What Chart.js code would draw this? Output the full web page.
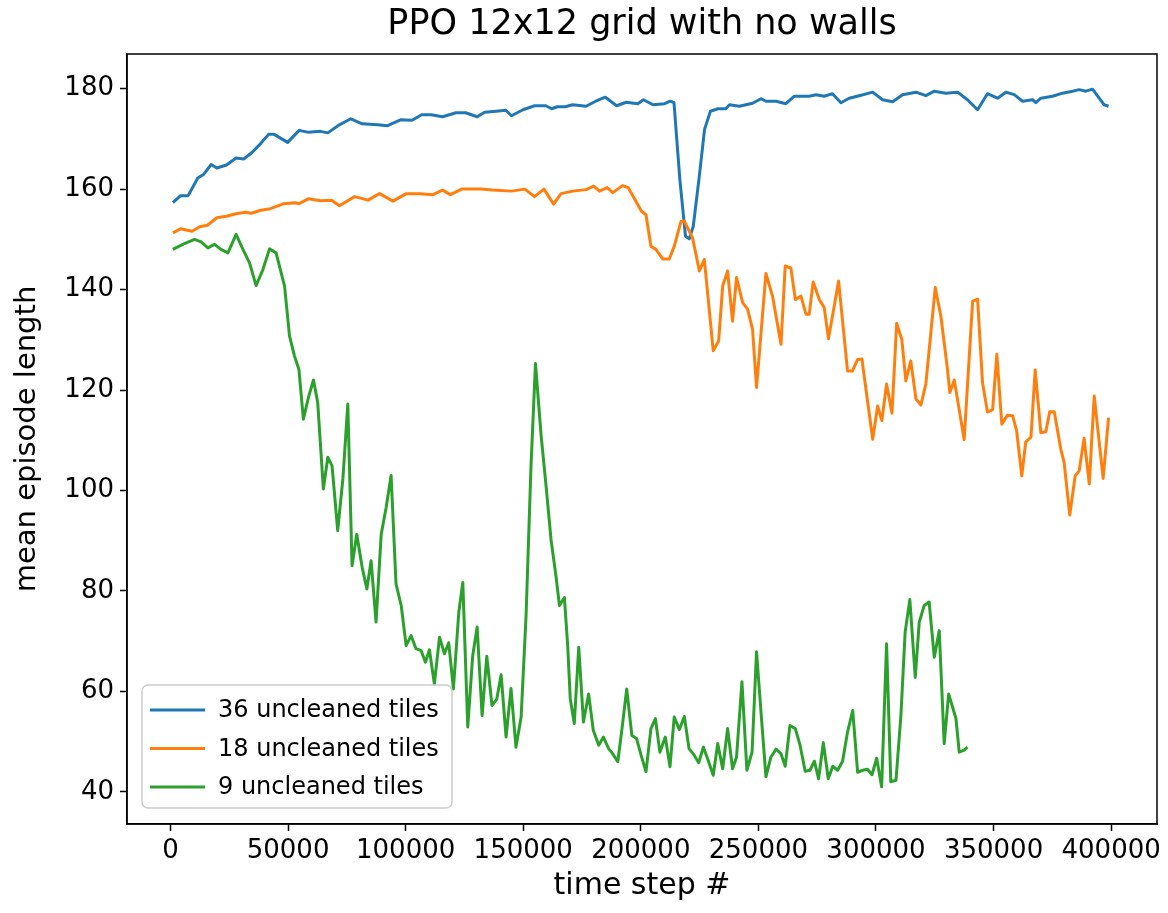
<!DOCTYPE html>
<html>
<head>
<meta charset="utf-8">
<title>PPO 12x12 grid with no walls</title>
<script src="https://cdn.jsdelivr.net/npm/chart.js@4.4.1/dist/chart.umd.min.js"></script>
<style>
  html, body { margin: 0; padding: 0; background: #fff; }
  #wrap { width: 1168px; height: 913px; }
</style>
</head>
<body>
<div id="wrap"><canvas id="chart" width="1168" height="913"></canvas></div>
<script>
// time steps and mean episode length
const steps36 = [1000, 4300, 7500, 11600, 14000, 17300, 19700, 23800, 27900, 31100, 34400, 37600, 41700, 44100, 49800,
  54700, 58800, 63700, 66900, 71800, 76700, 81500, 88100, 92100, 97800, 102700, 106800, 110800, 115700, 121400,
  125500, 130400, 133600, 138500, 142600, 145000, 149900, 154800, 159600, 162100, 164500, 167800, 171000, 176700,
  180800, 184900, 189700, 193800, 198700, 201100, 205200, 210100, 212500, 214100, 216600, 219000, 220600, 222300,
  224700, 227100, 229600, 232800, 236100, 237700, 241900, 247500, 251100, 253200, 257500, 261700, 265300, 271600,
  274500, 278000, 281500, 285100, 288600, 292900, 298600, 302800, 307100, 311300, 317000, 321200, 324800, 329700,
  334700, 338900, 343200, 347400, 351700, 355200, 358800, 362300, 366600, 368000, 370100, 375100, 379300, 383600,
  386400, 389200, 392100, 394900, 397000, 398900];
const len36 = [157.3, 158.7, 158.7, 162.2, 162.9, 164.9, 164.2, 164.8, 166.2, 166.0, 167.2, 168.7, 170.9, 170.9, 169.3,
  171.7, 171.3, 171.5, 171.2, 172.8, 174.0, 173.0, 172.8, 172.6, 173.8, 173.7, 174.8, 174.8, 174.4, 175.2,
  175.2, 174.4, 175.3, 175.5, 175.7, 174.6, 175.8, 176.6, 176.6, 176.0, 176.4, 176.4, 176.8, 176.5,
  177.5, 178.3, 176.6, 177.3, 177.0, 177.8, 176.8, 177.0, 177.5, 177.2, 161.9, 150.6, 150.1, 152.6,
  161.9, 171.9, 175.5, 176.0, 176.0, 176.8, 176.5, 177.1, 178.0, 177.5, 177.5, 177.0, 178.5, 178.5,
  178.8, 178.5, 179.0, 177.2, 178.1, 178.6, 179.3, 177.8, 177.4, 178.8, 179.3, 178.6, 179.5, 179.1,
  179.3, 177.8, 175.8, 179.0, 178.1, 179.3, 178.8, 177.5, 177.8, 177.2, 178.1, 178.5, 179.1, 179.5,
  179.8, 179.5, 179.9, 178.1, 176.8, 176.5];

const steps18 = [1000, 4300, 9200, 12400, 15700, 19700, 23800, 27900, 31900, 34400, 38400, 42500, 48200, 53100, 54700,
  58800, 63700, 68500, 71800, 78300, 84000, 88900, 94600, 100300, 106000, 111600, 115700, 119000, 123800, 132000,
  136900, 145000, 150700, 154800, 158800, 162900, 166100, 171000, 176700, 180000, 182400, 185700, 188100, 192200,
  194600, 197900, 200300, 202200, 204300, 206400, 209300, 212100, 214200, 217100, 218500, 222000, 224900, 227000,
  230800, 233100, 234800, 236900, 239000, 240700, 243300, 245400, 247500, 249200, 253200, 256000, 259600, 261400,
  263800, 265700, 268100, 270200, 271600, 273300, 275900, 278000, 279800, 284100, 287900, 290000, 292200, 294000,
  298600, 300700, 302500, 304500, 306800, 308800, 311000, 312700, 314800, 317000, 319100, 321200, 325200, 327600,
  330400, 331400, 333300, 337500, 341100, 343200, 345300, 347400, 349600, 351400, 353500, 355900, 358100, 359800,
  362000, 363700, 365900, 367700, 370100, 372200, 373900, 375800, 378600, 380000, 382400, 384700, 386400, 388500,
  390700, 392800, 396600, 398900];
const len18 = [151.3, 152.1, 151.6, 152.5, 152.8, 154.3, 154.6, 155.1, 155.4, 155.2, 155.8, 156.1, 157.1, 157.3, 157.1,
  158.1, 157.7, 157.8, 156.7, 158.5, 157.8, 159.1, 157.6, 159.1, 159.1, 158.9, 159.8, 158.9, 160.0, 160.0,
  159.8, 159.6, 160.0, 158.5, 160.0, 157.0, 159.1, 159.6, 159.9, 160.6, 159.6, 160.3, 159.3, 160.7,
  160.3, 157.6, 155.6, 154.9, 148.6, 148.0, 146.1, 146.1, 148.6, 153.6, 153.6, 150.3, 143.7, 146.0,
  127.8, 129.8, 140.7, 143.7, 133.7, 142.4, 137.4, 136.1, 132.1, 120.5, 143.2, 138.7, 129.1, 144.7,
  144.3, 138.0, 138.7, 135.1, 135.1, 141.5, 138.0, 136.4, 130.2, 141.7, 123.8, 123.8, 126.1, 126.2,
  110.2, 116.8, 113.9, 121.2, 115.4, 133.3, 130.0, 121.8, 125.8, 118.2, 117.0, 121.2, 140.4, 134.7,
  124.1, 119.5, 122.0, 110.1, 137.7, 138.1, 121.5, 115.6, 116.1, 127.1, 113.2, 115.0, 114.9, 111.9,
  102.9, 109.7, 110.6, 124.0, 111.5, 111.7, 115.7, 115.7, 108.2, 105.6, 95.1, 102.9, 103.9, 110.4,
  101.3, 118.8, 102.4, 114.5];

const steps9 = [1000, 5200, 10200, 13000, 15900, 18700, 21500, 24400, 27900, 30800, 33600, 36400, 39300, 42100, 44900,
  48500, 50600, 52700, 54600, 56500, 58800, 60800, 62600, 65000, 66900, 68700, 71100, 73300, 75400, 77200,
  79200, 81500, 83500, 85300, 87400, 89600, 91700, 93800, 95900, 98100, 100200, 102300, 104400, 106600, 108400,
  110100, 112200, 114400, 116500, 118300, 120300, 122600, 124300, 126400, 128500, 130400, 132500, 134500, 136700,
  138700, 140600, 142700, 144800, 146900, 149100, 151200, 153300, 155200, 157600, 159700, 161800, 163900, 165400,
  167500, 168900, 170000, 171700, 173600, 175600, 177800, 179800, 182100, 184100, 186300, 188000, 190200, 192000,
  194000, 196200, 198200, 200100, 202200, 204300, 206200, 208100, 210400, 212400, 214200, 216400, 218500, 220500,
  222700, 224600, 226600, 228400, 230800, 232700, 234800, 236900, 239000, 240700, 243000, 245100, 247300, 249200,
  251100, 253200, 255300, 257500, 259600, 261400, 263400, 265700, 267700, 269900, 271900, 273800, 275600, 277600,
  279700, 281600, 283700, 285800, 287900, 290100, 292200, 294300, 296400, 298300, 300300, 302400, 304500, 306300,
  308500, 310600, 312400, 314400, 316700, 318400, 320500, 322600, 324800, 326900, 329000, 330900, 334000, 335400,
  337500, 338900];
const len9 = [148.0, 149.0, 150.0, 149.5, 148.3, 149.0, 148.0, 147.3, 151.0, 148.0, 145.3, 140.8, 144.0, 148.1, 147.3,
  140.7, 130.8, 126.8, 124.1, 114.2, 118.8, 122.0, 117.5, 100.3, 106.6, 104.9, 92.0, 102.3, 117.2, 85.0,
  91.3, 84.7, 80.4, 86.0, 73.8, 91.3, 96.6, 103.0, 81.4, 77.1, 69.1, 71.1, 68.5, 68.1, 65.8,
  68.3, 61.5, 70.8, 67.5, 69.7, 60.5, 75.8, 81.7, 52.9, 67.1, 72.8, 55.2, 67.0, 57.2,
  58.4, 63.3, 50.9, 60.6, 48.9, 54.9, 75.1, 104.9, 125.3, 110.9, 100.9, 90.3, 83.0, 77.1,
  78.7, 69.1, 58.5, 53.6, 68.8, 53.9, 59.5, 52.2, 49.3, 50.9, 48.6, 47.6, 46.0, 52.6,
  60.5, 51.2, 50.6, 47.3, 44.0, 52.6, 54.6, 47.9, 50.9, 45.0, 54.9, 52.4, 55.0, 48.6,
  47.3, 45.8, 48.9, 46.6, 43.3, 49.6, 44.6, 52.6, 44.6, 46.9, 61.9, 44.3, 47.9, 67.9,
  55.9, 43.0, 46.9, 48.5, 47.6, 45.1, 53.2, 52.6, 49.3, 44.1, 44.3, 46.1, 42.6, 49.8,
  42.6, 45.1, 44.3, 46.1, 51.9, 56.2, 43.9, 44.3, 44.5, 43.4, 46.7, 41.0, 69.5, 42.0,
  42.3, 55.2, 71.8, 78.3, 62.8, 73.8, 77.1, 77.8, 66.8, 72.1, 49.6, 59.5, 54.6, 47.9,
  48.3, 48.9];

const seriesLabels = ['36 uncleaned tiles', '18 uncleaned tiles', '9 uncleaned tiles'];
const xTicks = [0, 50000, 100000, 150000, 200000, 250000, 300000, 350000, 400000];
const yTicks = [40, 60, 80, 100, 120, 140, 160, 180];

const colors = ['#1f77b4', '#ff7f0e', '#2ca02c'];
const FONT = "'DejaVu Sans', sans-serif";

function pts(xs, ys) {
  return xs.map((x, i) => ({ x: x, y: ys[i] }));
}

// matplotlib-style box around the plot area
const frame = {
  id: 'frame',
  afterDraw(chart) {
    const { ctx, chartArea: a } = chart;
    ctx.save();
    ctx.strokeStyle = '#000';
    ctx.lineWidth = 1.5;
    ctx.strokeRect(a.left, a.top, a.right - a.left, a.bottom - a.top);
    ctx.restore();
  }
};

// legend box in the lower left corner of the axes
const boxLegend = {
  id: 'boxLegend',
  afterDraw(chart) {
    const { ctx, chartArea: a } = chart;
    const sets = chart.data.datasets;
    const w = 310, h = 123, r = 6;
    const x = a.left + 15, y = a.bottom - 16 - h;
    ctx.save();
    ctx.beginPath();
    ctx.roundRect(x, y, w, h, r);
    ctx.fillStyle = 'rgba(255,255,255,0.8)';
    ctx.fill();
    ctx.strokeStyle = '#cccccc';
    ctx.lineWidth = 1.5;
    ctx.stroke();
    ctx.font = '24px ' + FONT;
    ctx.textBaseline = 'middle';
    sets.forEach((ds, i) => {
      const cy = y + 25 + i * 38.5;
      ctx.beginPath();
      ctx.moveTo(x + 8, cy);
      ctx.lineTo(x + 63, cy);
      ctx.strokeStyle = ds.borderColor;
      ctx.lineWidth = 2.8;
      ctx.stroke();
      ctx.fillStyle = '#000';
      ctx.fillText(ds.label, x + 76, cy + 1);
    });
    ctx.restore();
  }
};

Chart.defaults.color = '#000';
Chart.defaults.font.family = FONT;

new Chart(document.getElementById('chart'), {
  type: 'line',
  data: {
    datasets: [
      { label: seriesLabels[0], data: pts(steps36, len36), borderColor: colors[0], order: 2 },
      { label: seriesLabels[1], data: pts(steps18, len18), borderColor: colors[1], order: 1 },
      { label: seriesLabels[2], data: pts(steps9, len9), borderColor: colors[2], order: 0 }
    ].map(d => Object.assign(d, { borderWidth: 3, pointRadius: 0, tension: 0, fill: false, borderJoinStyle: 'round' }))
  },
  options: {
    responsive: false,
    animation: false,
    devicePixelRatio: 1,
    layout: { padding: { left: 0, right: 11, top: 0, bottom: 0 } },
    plugins: {
      legend: { display: false },
      tooltip: { enabled: false },
      title: {
        display: true,
        fullSize: false,
        text: 'PPO 12x12 grid with no walls',
        color: '#000',
        font: { size: 35, weight: 'normal', family: FONT },
        padding: { top: 4, bottom: 8 }
      }
    },
    scales: {
      x: {
        type: 'linear',
        min: -18500,
        max: 419500,
        afterBuildTicks: s => { s.ticks = xTicks.map(v => ({ value: v })); },
        afterFit: s => { s.height = 89; },
        grid: { drawOnChartArea: false, drawTicks: true, tickLength: 7, tickWidth: 1.5, tickColor: '#000' },
        border: { display: true, color: '#000', width: 1.5 },
        ticks: { font: { size: 26 }, padding: 5, maxRotation: 0, autoSkip: false, callback: v => String(v) },
        title: { display: true, text: 'time step #', font: { size: 30 }, padding: { top: 0, bottom: 9 } }
      },
      y: {
        type: 'linear',
        min: 33.6,
        max: 186.9,
        afterBuildTicks: s => { s.ticks = yTicks.map(v => ({ value: v })); },
        afterFit: s => { s.width = 127; },
        grid: { drawOnChartArea: false, drawTicks: true, tickLength: 7, tickWidth: 1.5, tickColor: '#000' },
        border: { display: true, color: '#000', width: 1.5 },
        ticks: { font: { size: 26 }, padding: 6, autoSkip: false },
        title: { display: true, text: 'mean episode length', font: { size: 29 }, padding: { top: 10, bottom: 0 } }
      }
    }
  },
  plugins: [frame, boxLegend]
});
</script>
</body>
</html>
